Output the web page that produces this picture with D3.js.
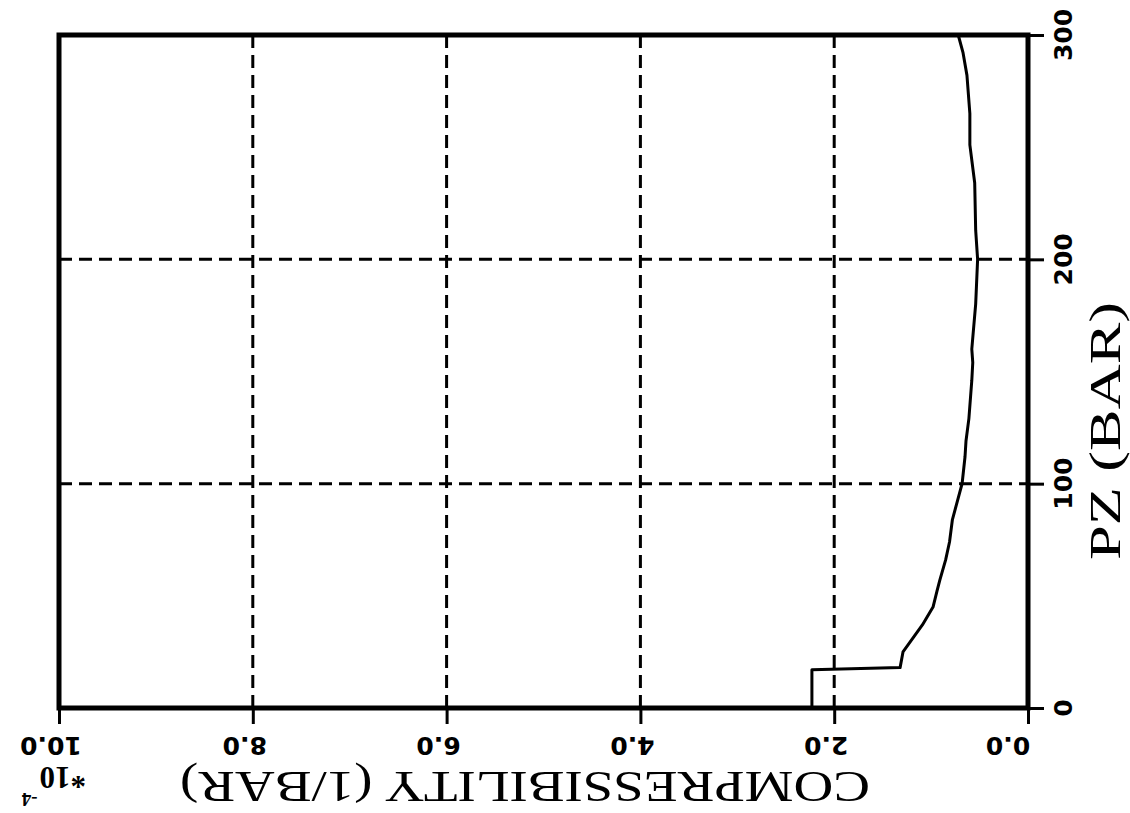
<!DOCTYPE html>
<html>
<head>
<meta charset="utf-8">
<script src="https://cdn.jsdelivr.net/npm/d3@7"></script>
<style>
  html, body { margin: 0; padding: 0; background: #fff; }
  svg { display: block; }
</style>
</head>
<body>
<svg id="chart" width="1130" height="813"></svg>
<script>
// Pressure (bar) along the profile and compressibility (x1e-4 1/bar)
const pz = [0, 17, 18, 25, 31, 37, 45, 52, 57, 66, 74, 84, 100, 112, 119, 129, 146, 154, 160, 180, 200, 213, 234, 251, 265, 282, 292, 300];
const compressibility = [2.23, 2.23, 1.32, 1.29, 1.19, 1.09, 0.98, 0.94, 0.91, 0.85, 0.81, 0.78, 0.68, 0.65, 0.64, 0.61, 0.58, 0.57, 0.58, 0.54, 0.52, 0.54, 0.55, 0.60, 0.60, 0.63, 0.67, 0.72];

const compTicks = [10, 8, 6, 4, 2, 0];
const compTickLabels = ["10.0", "8.0", "6.0", "4.0", "2.0", "0.0"];
const pzTicks = [0, 100, 200, 300];
const pzTickLabels = ["0", "100", "200", "300"];
const compGrid = [8, 6, 4, 2];
const pzGrid = [100, 200];

const svg = d3.select("#chart");

const plotLeft = 59, plotRight = 1028, plotTop = 35, plotBottom = 708;
const x = d3.scaleLinear().domain([10, 0]).range([plotLeft, plotRight]);
const y = d3.scaleLinear().domain([0, 300]).range([plotBottom, plotTop]);

// dashed grid
svg.append("g").selectAll("line").data(compGrid).join("line")
  .attr("x1", d => x(d)).attr("x2", d => x(d))
  .attr("y1", plotTop).attr("y2", plotBottom)
  .attr("stroke", "#000").attr("stroke-width", 3)
  .attr("stroke-dasharray", "13,7");
svg.append("g").selectAll("line").data(pzGrid).join("line")
  .attr("x1", plotLeft).attr("x2", plotRight)
  .attr("y1", d => y(d)).attr("y2", d => y(d))
  .attr("stroke", "#000").attr("stroke-width", 3)
  .attr("stroke-dasharray", "13,7");

// compressibility profile
const line = d3.line()
  .x((d, i) => x(compressibility[i]))
  .y((d, i) => y(pz[i]));
svg.append("path")
  .attr("d", line(pz))
  .attr("fill", "none")
  .attr("stroke", "#000")
  .attr("stroke-width", 3)
  .attr("stroke-linejoin", "round");

// frame
svg.append("rect")
  .attr("x", plotLeft).attr("y", plotTop)
  .attr("width", plotRight - plotLeft).attr("height", plotBottom - plotTop)
  .attr("fill", "none").attr("stroke", "#000").attr("stroke-width", 5);

// bottom axis (upside-down labels)
const bottomAxis = d3.axisBottom(x).tickValues(compTicks).tickSize(16).tickFormat("");
const gb = svg.append("g").attr("transform", `translate(0,${plotBottom})`).call(bottomAxis);
gb.select(".domain").remove();
gb.selectAll(".tick line").attr("stroke", "#000").attr("stroke-width", 3);

svg.append("g").selectAll("text").data(compTicks).join("text")
  .attr("transform", d => {
    const cx = Math.min(x(d) - 8, plotRight - 20);
    return `translate(${cx},737) rotate(180)`;
  })
  .attr("text-anchor", "middle")
  .attr("font-family", "DejaVu Sans")
  .attr("font-weight", "bold")
  .attr("font-size", 25)
  .text((d, i) => compTickLabels[i]);

// right axis
const rightAxis = d3.axisRight(y).tickValues(pzTicks).tickSize(16).tickFormat("");
const gr = svg.append("g").attr("transform", `translate(${plotRight},0)`).call(rightAxis);
gr.select(".domain").remove();
gr.selectAll(".tick line").attr("stroke", "#000").attr("stroke-width", 3);

svg.append("g").selectAll("text").data(pzTicks).join("text")
  .attr("transform", d => `translate(1072,${y(d)}) rotate(-90)`)
  .attr("text-anchor", "middle")
  .attr("font-family", "DejaVu Sans")
  .attr("font-weight", "bold")
  .attr("font-size", 25)
  .text((d, i) => pzTickLabels[i]);

// axis titles
svg.append("text")
  .attr("transform", "translate(525,772) rotate(180)")
  .attr("text-anchor", "middle")
  .attr("font-family", "Liberation Serif")
  .attr("font-size", 45)
  .attr("textLength", 690)
  .attr("lengthAdjust", "spacingAndGlyphs")
  .text("COMPRESSIBILITY (1/BAR)");

svg.append("text")
  .attr("transform", "translate(1120,431) rotate(-90)")
  .attr("text-anchor", "middle")
  .attr("font-family", "Liberation Serif")
  .attr("font-size", 45)
  .attr("textLength", 258)
  .attr("lengthAdjust", "spacingAndGlyphs")
  .text("PZ (BAR)");

// scale factor
const sf = svg.append("text")
  .attr("transform", "translate(86,767) rotate(180)")
  .attr("text-anchor", "start")
  .attr("font-family", "Liberation Serif")
  .attr("font-weight", "bold")
  .attr("font-size", 31);
sf.append("tspan").text("*10");
sf.append("tspan").attr("font-size", 19).attr("dx", 2).attr("dy", -26).text("-4");
</script>
</body>
</html>
